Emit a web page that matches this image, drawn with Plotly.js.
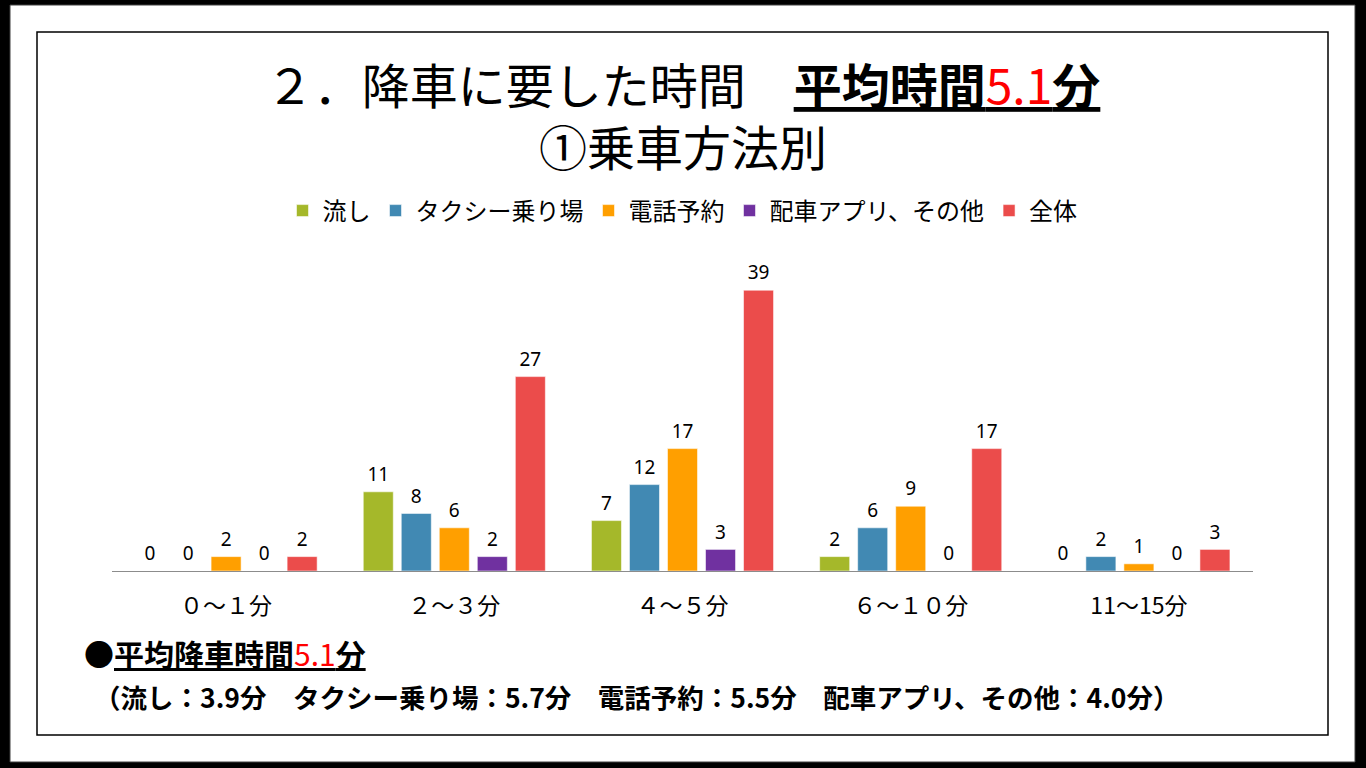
<!DOCTYPE html>
<html>
<head>
<meta charset="utf-8">
<script src="https://cdn.plot.ly/plotly-3.0.1.min.js"></script>
<style>html,body{margin:0;padding:0;background:#000;}#chart{width:1366px;height:768px;}</style>
</head>
<body>
<div id="chart"></div>
<script>
// ---- data ----
const categories = ["０～１分", "２～３分", "４～５分", "６～１０分", "11～15分"];
const seriesNames = ["流し", "タクシー乗り場", "電話予約", "配車アプリ、その他", "全体"];
const nagashi = [0, 11, 7, 2, 0];
const taxiStand = [0, 8, 12, 6, 2];
const phone = [2, 6, 17, 9, 1];
const app = [0, 2, 3, 0, 0];
const total = [2, 27, 39, 17, 3];
const seriesColors = ["#A5B82A", "#4189B3", "#FF9F00", "#7031A0", "#EB4C4B"];

const seriesValues = [nagashi, taxiStand, phone, app, total];

// ---- layout geometry (pixels) ----
const W = 1366, H = 768;
const M = {l: 112, r: 113, t: 250, b: 197};
const PW = W - M.l - M.r, PH = H - M.t - M.b;
const px = x => (x - M.l) / PW;
const py = y => (H - M.b - y) / PH;
const unitPx = 7.2;
const GAP = 0.167;

const JP = '"Noto Sans CJK JP", "Noto Sans", sans-serif';

const barTraces = seriesValues.map((vals, i) => ({
  type: 'bar',
  name: seriesNames[i],
  x: categories,
  y: vals,
  marker: {color: seriesColors[i], line: {width: 1, color: 'rgba(255,255,255,0.55)'}},
  hoverinfo: 'x+y+name'
}));

// value labels drawn as grouped text points at the same positions as the bars
const labelTraces = seriesValues.map((vals, i) => ({
  type: 'scatter',
  mode: 'markers+text',
  name: seriesNames[i] + ' label',
  showlegend: false,
  x: categories,
  y: vals,
  text: vals.map(String),
  textposition: 'top center',
  textfont: {family: '"Noto Sans", sans-serif', size: 19, color: '#000'},
  marker: {size: 8, opacity: 0, color: seriesColors[i]},
  cliponaxis: false,
  hoverinfo: 'skip'
}));

const layout = {
  width: W, height: H,
  margin: M,
  paper_bgcolor: '#000',
  plot_bgcolor: 'rgba(0,0,0,0)',
  barmode: 'group',
  bargap: GAP,
  bargroupgap: 0.21,
  scattermode: 'group',
  scattergap: GAP,
  showlegend: true,
  font: {family: JP, color: '#000'},
  title: {
    text: "２．降車に要した時間　<b><u>平均時間</u></b><u><span style='color:#FF0000'>5.1</span></u><b><u>分</u></b><br>①乗車方法別",
    x: 0.5, xref: 'container', xanchor: 'center',
    y: 1 - 104 / H, yref: 'container', yanchor: 'middle',
    font: {family: JP, size: 48, color: '#000'}
  },
  legend: {
    orientation: 'h',
    x: 0.5, xanchor: 'center',
    y: py(211), yanchor: 'middle',
    font: {family: JP, size: 24, color: '#000'},
    bgcolor: 'rgba(0,0,0,0)',
    traceorder: 'normal'
  },
  xaxis: {
    type: 'category',
    showline: true, linecolor: '#8c8c8c', linewidth: 1,
    showgrid: false, zeroline: false,
    ticks: '',
    ticklabelstandoff: 14,
    tickfont: {family: JP, size: 23, color: '#000'},
    fixedrange: true
  },
  yaxis: {
    range: [0, PH / unitPx],
    visible: false,
    showgrid: false, zeroline: false,
    fixedrange: true
  },
  shapes: [
    {type: 'rect', xref: 'paper', yref: 'paper', layer: 'below',
     x0: px(10), x1: px(1355), y0: py(762), y1: py(5),
     fillcolor: '#fff', line: {color: '#404040', width: 1}},
    {type: 'rect', xref: 'paper', yref: 'paper', layer: 'below',
     x0: px(37), x1: px(1328), y0: py(735), y1: py(32),
     fillcolor: 'rgba(0,0,0,0)', line: {color: '#000', width: 1.5}}
  ],
  annotations: [
    {text: "<b>●<u>平均降車時間</u></b><u><span style='color:#FF0000'>5.1</span></u><b><u>分</u></b>",
     xref: 'paper', yref: 'paper',
     x: px(82), xanchor: 'left', y: py(653), yanchor: 'middle',
     showarrow: false, font: {family: JP, size: 30, color: '#000'}},
    {text: "<b>（流し：3.9分　タクシー乗り場：5.7分　電話予約：5.5分　配車アプリ、その他：4.0分）</b>",
     xref: 'paper', yref: 'paper',
     x: px(92), xanchor: 'left', y: py(696), yanchor: 'middle',
     showarrow: false, font: {family: JP, size: 26.5, color: '#000'}}
  ]
};

Plotly.newPlot('chart', barTraces.concat(labelTraces), layout, {displayModeBar: false});
</script>
</body>
</html>
